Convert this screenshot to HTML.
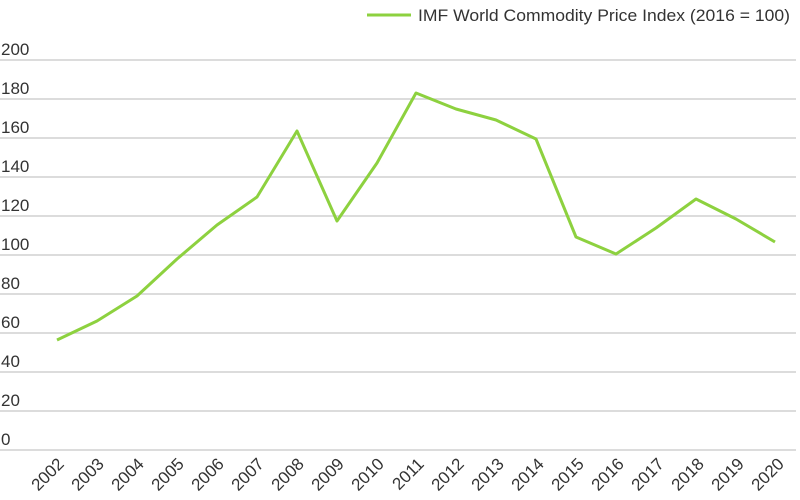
<!DOCTYPE html>
<html><head><style>body{margin:0;background:#fff}svg{display:block}</style></head><body>
<svg width="800" height="500" xmlns="http://www.w3.org/2000/svg" font-family="Liberation Sans, sans-serif" font-size="17" fill="#333">
<g stroke="#d0d0d0" stroke-width="1.5">
<line x1="0" x2="796" y1="60" y2="60"/><line x1="0" x2="796" y1="99" y2="99"/><line x1="0" x2="796" y1="138" y2="138"/><line x1="0" x2="796" y1="177" y2="177"/><line x1="0" x2="796" y1="216" y2="216"/><line x1="0" x2="796" y1="255" y2="255"/><line x1="0" x2="796" y1="294" y2="294"/><line x1="0" x2="796" y1="333" y2="333"/><line x1="0" x2="796" y1="372" y2="372"/><line x1="0" x2="796" y1="411" y2="411"/><line x1="0" x2="796" y1="450" y2="450"/>
</g>
<g>
<text x="1" y="55">200</text><text x="1" y="94">180</text><text x="1" y="133">160</text><text x="1" y="172">140</text><text x="1" y="211">120</text><text x="1" y="250">100</text><text x="1" y="289">80</text><text x="1" y="328">60</text><text x="1" y="367">40</text><text x="1" y="406">20</text><text x="1" y="445">0</text>
</g>
<g text-anchor="end">
<text transform="translate(65,465) rotate(-45)">2002</text>
<text transform="translate(105,465) rotate(-45)">2003</text>
<text transform="translate(145,465) rotate(-45)">2004</text>
<text transform="translate(185,465) rotate(-45)">2005</text>
<text transform="translate(225,465) rotate(-45)">2006</text>
<text transform="translate(265,465) rotate(-45)">2007</text>
<text transform="translate(305,465) rotate(-45)">2008</text>
<text transform="translate(345,465) rotate(-45)">2009</text>
<text transform="translate(385,465) rotate(-45)">2010</text>
<text transform="translate(425,465) rotate(-45)">2011</text>
<text transform="translate(465,465) rotate(-45)">2012</text>
<text transform="translate(505,465) rotate(-45)">2013</text>
<text transform="translate(545,465) rotate(-45)">2014</text>
<text transform="translate(585,465) rotate(-45)">2015</text>
<text transform="translate(625,465) rotate(-45)">2016</text>
<text transform="translate(665,465) rotate(-45)">2017</text>
<text transform="translate(705,465) rotate(-45)">2018</text>
<text transform="translate(745,465) rotate(-45)">2019</text>
<text transform="translate(785,465) rotate(-45)">2020</text>
</g>
<polyline fill="none" stroke="#8dd13f" stroke-width="3" stroke-linejoin="round" points="57,340 97,321 137,296 177,259 217,225 257,197 297,131 337,221 377,163 416,93 456,109 496,120 536,139 576,237 616,254 656,228 696,199 736,219 775,242"/>
<line x1="367" x2="411" y1="15" y2="15" stroke="#8dd13f" stroke-width="3"/>
<text x="418" y="21" font-size="17" textLength="372" lengthAdjust="spacingAndGlyphs">IMF World Commodity Price Index (2016 = 100)</text>
</svg>
</body></html>
